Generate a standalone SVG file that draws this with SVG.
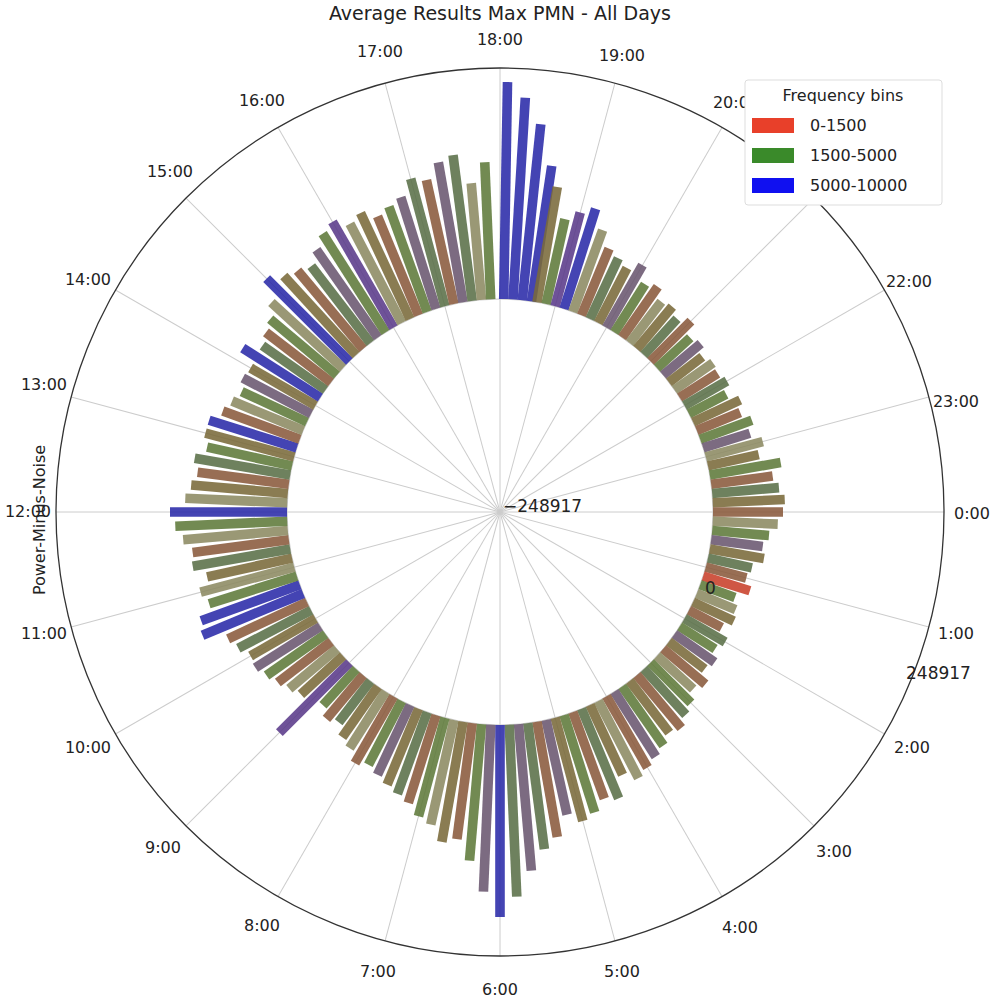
<svg xmlns="http://www.w3.org/2000/svg" width="1000" height="999" viewBox="0 0 1000 999">
<style>
text{font-family:"DejaVu Sans",sans-serif;font-size:16px;fill:#222}
.h{text-anchor:middle;dominant-baseline:middle}
.g line{stroke:#ccc;stroke-width:1}
#bars line{stroke-width:9.6;stroke-opacity:.88}
.c0{stroke:#7a6a3a}.c1{stroke:#5f7a3a}.c2{stroke:#8a5a3c}.c3{stroke:#5a7048}.c4{stroke:#8c8a62}.c5{stroke:#6a5670}.cb{stroke:#2a2aa8}.cp{stroke:#5a3a8a}.cr{stroke:#c8402a}
</style>
<rect width="1000" height="999" fill="#fff"/>
<text x="500" y="14" class="h" style="font-size:19px">Average Results Max PMN - All Days</text>
<g class="g" transform="translate(500,512)">
<line y2="-444"/><line y2="-444" transform="rotate(15)"/><line y2="-444" transform="rotate(30)"/><line y2="-444" transform="rotate(45)"/><line y2="-444" transform="rotate(60)"/><line y2="-444" transform="rotate(75)"/><line y2="-444" transform="rotate(90)"/><line y2="-444" transform="rotate(105)"/><line y2="-444" transform="rotate(120)"/><line y2="-444" transform="rotate(135)"/><line y2="-444" transform="rotate(150)"/><line y2="-444" transform="rotate(165)"/><line y2="-444" transform="rotate(180)"/><line y2="-444" transform="rotate(195)"/><line y2="-444" transform="rotate(210)"/><line y2="-444" transform="rotate(225)"/><line y2="-444" transform="rotate(240)"/><line y2="-444" transform="rotate(255)"/><line y2="-444" transform="rotate(270)"/><line y2="-444" transform="rotate(285)"/><line y2="-444" transform="rotate(300)"/><line y2="-444" transform="rotate(315)"/><line y2="-444" transform="rotate(330)"/><line y2="-444" transform="rotate(345)"/>
<circle r="213" fill="none" stroke="#ccc"/>
<circle r="444" fill="none" stroke="#333" stroke-width="1.3"/>
</g>
<g id="bars" transform="translate(500,512)">
<line class="cb" y1="-213" y2="-430" transform="rotate(1)"/><line class="cb" y1="-213" y2="-415" transform="rotate(3.5)"/><line class="cb" y1="-213" y2="-390" transform="rotate(6)"/><line class="cb" y1="-213" y2="-350" transform="rotate(8.5)"/><line class="c0" y1="-213" y2="-330" transform="rotate(10)"/><line class="c1" y1="-213" y2="-300" transform="rotate(12.5)"/><line class="cp" y1="-213" y2="-310" transform="rotate(15)"/><line class="cb" y1="-213" y2="-318" transform="rotate(17.5)"/><line class="c4" y1="-213" y2="-300" transform="rotate(20)"/><line class="c2" y1="-213" y2="-285" transform="rotate(22.5)"/><line class="c3" y1="-213" y2="-280" transform="rotate(25)"/><line class="c0" y1="-213" y2="-275" transform="rotate(27.5)"/><line class="c5" y1="-213" y2="-285" transform="rotate(30)"/><line class="c1" y1="-213" y2="-270" transform="rotate(32.5)"/><line class="c2" y1="-213" y2="-275" transform="rotate(35)"/><line class="c4" y1="-213" y2="-265" transform="rotate(37.5)"/><line class="c0" y1="-213" y2="-268" transform="rotate(40)"/><line class="c3" y1="-213" y2="-262" transform="rotate(42.5)"/><line class="c2" y1="-213" y2="-270" transform="rotate(45)"/><line class="c1" y1="-213" y2="-258" transform="rotate(47.5)"/><line class="c5" y1="-213" y2="-262" transform="rotate(50)"/><line class="c0" y1="-213" y2="-255" transform="rotate(52.5)"/><line class="c4" y1="-213" y2="-260" transform="rotate(55)"/><line class="c2" y1="-213" y2="-258" transform="rotate(57.5)"/><line class="c3" y1="-213" y2="-262" transform="rotate(60)"/><line class="c1" y1="-213" y2="-255" transform="rotate(62.5)"/><line class="c0" y1="-213" y2="-265" transform="rotate(65)"/><line class="c2" y1="-213" y2="-260" transform="rotate(67.5)"/><line class="c1" y1="-213" y2="-268" transform="rotate(70)"/><line class="c5" y1="-213" y2="-262" transform="rotate(72.5)"/><line class="c4" y1="-213" y2="-272" transform="rotate(75)"/><line class="c0" y1="-213" y2="-265" transform="rotate(77.5)"/><line class="c1" y1="-213" y2="-285" transform="rotate(80)"/><line class="c2" y1="-213" y2="-275" transform="rotate(82.5)"/><line class="c3" y1="-213" y2="-280" transform="rotate(85)"/><line class="c0" y1="-213" y2="-285" transform="rotate(87.5)"/><line class="c2" y1="-213" y2="-283" transform="rotate(90)"/><line class="c4" y1="-213" y2="-278" transform="rotate(92.5)"/><line class="c1" y1="-213" y2="-270" transform="rotate(95)"/><line class="c5" y1="-213" y2="-265" transform="rotate(97.5)"/><line class="c0" y1="-213" y2="-268" transform="rotate(100)"/><line class="c3" y1="-213" y2="-258" transform="rotate(102.5)"/><line class="c2" y1="-213" y2="-255" transform="rotate(105)"/><line class="cr" y1="-213" y2="-262" transform="rotate(107.5)"/><line class="c1" y1="-213" y2="-250" transform="rotate(110)"/><line class="c4" y1="-213" y2="-255" transform="rotate(112.5)"/><line class="c0" y1="-213" y2="-258" transform="rotate(115)"/><line class="c2" y1="-213" y2="-250" transform="rotate(117.5)"/><line class="c3" y1="-213" y2="-260" transform="rotate(120)"/><line class="c1" y1="-213" y2="-255" transform="rotate(122.5)"/><line class="c5" y1="-213" y2="-262" transform="rotate(125)"/><line class="c0" y1="-213" y2="-258" transform="rotate(127.5)"/><line class="c2" y1="-213" y2="-268" transform="rotate(130)"/><line class="c4" y1="-213" y2="-262" transform="rotate(132.5)"/><line class="c1" y1="-213" y2="-270" transform="rotate(135)"/><line class="c3" y1="-213" y2="-275" transform="rotate(137.5)"/><line class="c2" y1="-213" y2="-282" transform="rotate(140)"/><line class="c0" y1="-213" y2="-278" transform="rotate(142.5)"/><line class="c1" y1="-213" y2="-285" transform="rotate(145)"/><line class="c5" y1="-213" y2="-290" transform="rotate(147.5)"/><line class="c2" y1="-213" y2="-295" transform="rotate(150)"/><line class="c4" y1="-213" y2="-300" transform="rotate(152.5)"/><line class="c0" y1="-213" y2="-290" transform="rotate(155)"/><line class="c3" y1="-213" y2="-310" transform="rotate(157.5)"/><line class="c2" y1="-213" y2="-305" transform="rotate(160)"/><line class="c1" y1="-213" y2="-315" transform="rotate(162.5)"/><line class="c0" y1="-213" y2="-320" transform="rotate(165)"/><line class="c5" y1="-213" y2="-310" transform="rotate(167.5)"/><line class="c2" y1="-213" y2="-330" transform="rotate(170)"/><line class="c3" y1="-213" y2="-340" transform="rotate(172.5)"/><line class="c5" y1="-213" y2="-360" transform="rotate(175)"/><line class="c3" y1="-213" y2="-385" transform="rotate(177.5)"/><line class="cb" y1="-213" y2="-405" transform="rotate(180)"/><line class="c5" y1="-213" y2="-380" transform="rotate(182.5)"/><line class="c1" y1="-213" y2="-350" transform="rotate(185)"/><line class="c2" y1="-213" y2="-330" transform="rotate(187.5)"/><line class="c0" y1="-213" y2="-335" transform="rotate(190)"/><line class="c4" y1="-213" y2="-320" transform="rotate(192.5)"/><line class="c1" y1="-213" y2="-315" transform="rotate(195)"/><line class="c2" y1="-213" y2="-305" transform="rotate(197.5)"/><line class="c3" y1="-213" y2="-300" transform="rotate(200)"/><line class="c0" y1="-213" y2="-295" transform="rotate(202.5)"/><line class="c5" y1="-213" y2="-290" transform="rotate(205)"/><line class="c1" y1="-213" y2="-285" transform="rotate(207.5)"/><line class="c2" y1="-213" y2="-290" transform="rotate(210)"/><line class="c4" y1="-213" y2="-280" transform="rotate(212.5)"/><line class="c0" y1="-213" y2="-275" transform="rotate(215)"/><line class="c3" y1="-213" y2="-265" transform="rotate(217.5)"/><line class="c2" y1="-213" y2="-270" transform="rotate(220)"/><line class="c1" y1="-213" y2="-262" transform="rotate(222.5)"/><line class="cp" y1="-213" y2="-312" transform="rotate(225)"/><line class="c0" y1="-213" y2="-270" transform="rotate(227.5)"/><line class="c4" y1="-213" y2="-275" transform="rotate(230)"/><line class="c2" y1="-213" y2="-280" transform="rotate(232.5)"/><line class="c1" y1="-213" y2="-285" transform="rotate(235)"/><line class="c5" y1="-213" y2="-290" transform="rotate(237.5)"/><line class="c0" y1="-213" y2="-288" transform="rotate(240)"/><line class="c3" y1="-213" y2="-295" transform="rotate(242.5)"/><line class="c2" y1="-213" y2="-300" transform="rotate(245)"/><line class="cb" y1="-213" y2="-322" transform="rotate(247.5)"/><line class="cb" y1="-213" y2="-318" transform="rotate(250)"/><line class="c1" y1="-213" y2="-305" transform="rotate(252.5)"/><line class="c4" y1="-213" y2="-310" transform="rotate(255)"/><line class="c0" y1="-213" y2="-300" transform="rotate(257.5)"/><line class="c3" y1="-213" y2="-312" transform="rotate(260)"/><line class="c2" y1="-213" y2="-310" transform="rotate(262.5)"/><line class="c4" y1="-213" y2="-318" transform="rotate(265)"/><line class="c1" y1="-213" y2="-325" transform="rotate(267.5)"/><line class="cb" y1="-213" y2="-330" transform="rotate(270)"/><line class="c4" y1="-213" y2="-315" transform="rotate(272.5)"/><line class="c0" y1="-213" y2="-310" transform="rotate(275)"/><line class="c2" y1="-213" y2="-305" transform="rotate(277.5)"/><line class="c3" y1="-213" y2="-310" transform="rotate(280)"/><line class="c1" y1="-213" y2="-300" transform="rotate(282.5)"/><line class="c0" y1="-213" y2="-305" transform="rotate(285)"/><line class="cb" y1="-213" y2="-305" transform="rotate(287.5)"/><line class="c2" y1="-213" y2="-295" transform="rotate(290)"/><line class="c4" y1="-213" y2="-290" transform="rotate(292.5)"/><line class="c1" y1="-213" y2="-285" transform="rotate(295)"/><line class="c5" y1="-213" y2="-290" transform="rotate(297.5)"/><line class="c0" y1="-213" y2="-288" transform="rotate(300)"/><line class="cb" y1="-213" y2="-305" transform="rotate(302.5)"/><line class="c3" y1="-213" y2="-290" transform="rotate(305)"/><line class="c2" y1="-213" y2="-295" transform="rotate(307.5)"/><line class="c1" y1="-213" y2="-300" transform="rotate(310)"/><line class="c4" y1="-213" y2="-310" transform="rotate(312.5)"/><line class="cb" y1="-213" y2="-330" transform="rotate(315)"/><line class="c0" y1="-213" y2="-320" transform="rotate(317.5)"/><line class="c2" y1="-213" y2="-315" transform="rotate(320)"/><line class="c3" y1="-213" y2="-310" transform="rotate(322.5)"/><line class="c5" y1="-213" y2="-320" transform="rotate(325)"/><line class="c1" y1="-213" y2="-330" transform="rotate(327.5)"/><line class="cp" y1="-213" y2="-335" transform="rotate(330)"/><line class="c4" y1="-213" y2="-325" transform="rotate(332.5)"/><line class="c0" y1="-213" y2="-330" transform="rotate(335)"/><line class="c2" y1="-213" y2="-320" transform="rotate(337.5)"/><line class="c1" y1="-213" y2="-325" transform="rotate(340)"/><line class="c5" y1="-213" y2="-330" transform="rotate(342.5)"/><line class="c3" y1="-213" y2="-345" transform="rotate(345)"/><line class="c2" y1="-213" y2="-340" transform="rotate(347.5)"/><line class="c5" y1="-213" y2="-355" transform="rotate(350)"/><line class="c3" y1="-213" y2="-360" transform="rotate(352.5)"/><line class="c4" y1="-213" y2="-330" transform="rotate(355)"/><line class="c1" y1="-213" y2="-350" transform="rotate(357.5)"/>
</g>
<g id="labels">
<text class="h" x="500" y="40">18:00</text><text class="h" x="622" y="56">19:00</text><text class="h" x="736" y="103">20:00</text><text class="h" x="909" y="282">22:00</text><text class="h" x="956" y="402">23:00</text><text class="h" x="972" y="514">0:00</text><text class="h" x="956" y="634">1:00</text><text class="h" x="912" y="748">2:00</text><text class="h" x="834" y="852">3:00</text><text class="h" x="740" y="928">4:00</text><text class="h" x="622" y="972">5:00</text><text class="h" x="500" y="990">6:00</text><text class="h" x="378" y="972">7:00</text><text class="h" x="262" y="926">8:00</text><text class="h" x="163" y="848">9:00</text><text class="h" x="88" y="748">10:00</text><text class="h" x="44" y="634">11:00</text><text class="h" x="28" y="512">12:00</text><text class="h" x="44" y="385">13:00</text><text class="h" x="88" y="280">14:00</text><text class="h" x="170" y="172">15:00</text><text class="h" x="262" y="101">16:00</text><text class="h" x="380" y="52">17:00</text>
<text x="503" y="507" style="font-size:17px" dominant-baseline="middle">−248917</text>
<text x="705" y="594" style="font-size:17px">0</text>
<text x="906" y="679" style="font-size:17px">248917</text>
<text transform="translate(40,520) rotate(-90)" class="h">Power-Minus-Noise</text>
</g>
<g id="legend">
<rect x="745" y="80" width="197" height="125" rx="3" fill="#fff" stroke="#ddd"/>
<text x="843" y="96" class="h">Frequency bins</text>
<rect x="752" y="118" width="42" height="15" fill="#e8402a"/><text x="810" y="131">0-1500</text>
<rect x="752" y="148" width="42" height="15" fill="#3a8a2a"/><text x="810" y="161">1500-5000</text>
<rect x="752" y="178" width="42" height="15" fill="#1010f0"/><text x="810" y="191">5000-10000</text>
</g>
</svg>
